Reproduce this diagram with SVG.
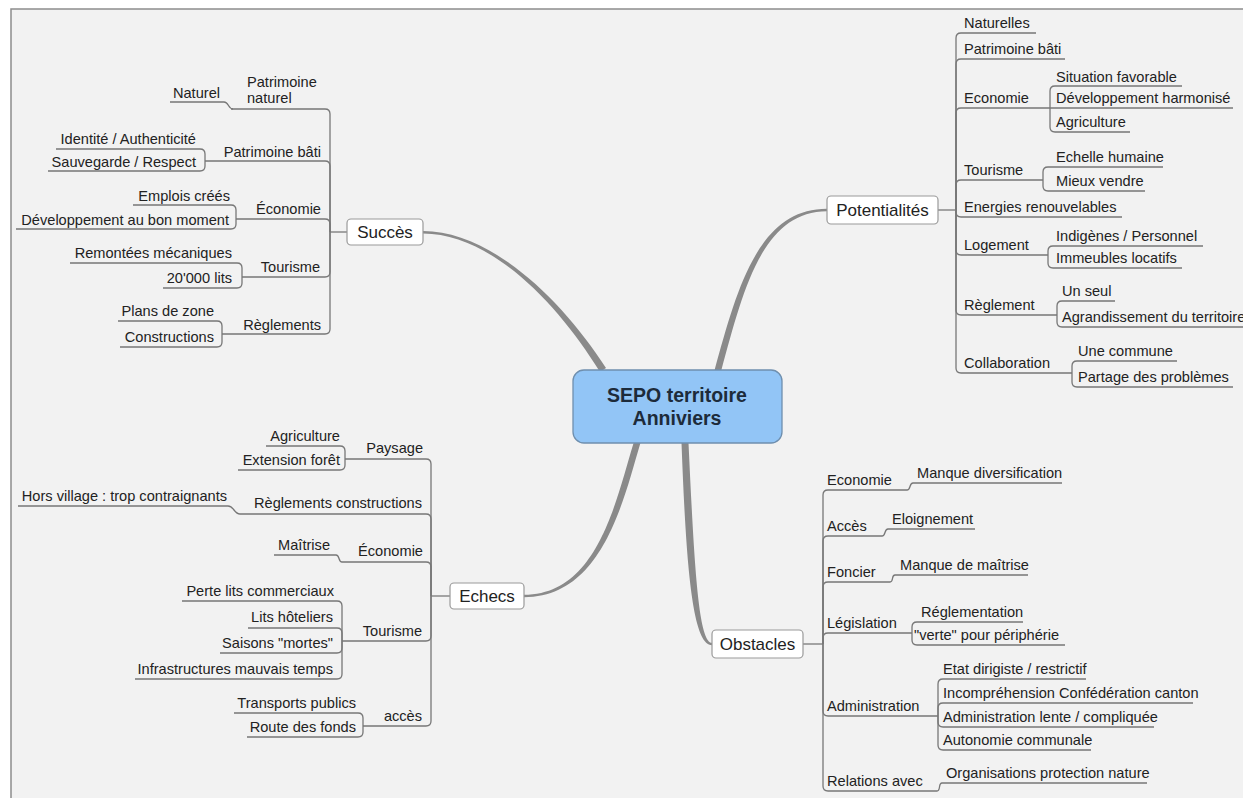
<svg xmlns="http://www.w3.org/2000/svg" width="1243" height="798" viewBox="0 0 1243 798">
<style>
text{font-family:"Liberation Sans",Arial,sans-serif;fill:#222}
.l{font-size:14.6px}
.e{text-anchor:end}
.bt{font-size:17px;text-anchor:middle}
.ct{font-size:19.5px;font-weight:bold;text-anchor:middle;fill:#1d2b3a}
.ln{fill:none;stroke:#777;stroke-width:1.3}
.bx{fill:#fff;stroke:#9a9a9a;stroke-width:1.2}
.br{fill:#8a8a8a}
</style>
<rect x="0" y="0" width="1243" height="798" fill="#fff"/>
<rect x="11" y="9" width="1232" height="789" fill="#f2f2f2"/>
<path d="M11,798 V9 H1243" fill="none" stroke="#8d8d8d" stroke-width="1.5"/>

<g id="connectors">
<g id="main-branches">
<path class="br" d="M423,231 C490,231 561,298 606,368 L600,372 C557,302 490,233.5 423,233.5 Z"/>
<path class="br" d="M714.6,370 C737,289 758,208.8 827,208.8 L827,211.2 C762,211.2 743,291 721.4,370 Z"/>
<path class="br" d="M633.6,443 C616,500 598,594.8 524,594.8 L524,597.2 C602,597.2 623,502 640.4,443 Z"/>
<path class="br" d="M681.5,443 C686,562 692,645.2 712,645.2 L712,642.8 C698,642.8 694,558 688.5,443 Z"/>
</g>
<g id="succes-links" class="ln">
<path d="M347,232 H330"/>
<path d="M231,109 H325 Q330,109 330,114 V232"/>
<path d="M205,161 H325 Q330,161 330,166 V232"/>
<path d="M236,219 H325 Q330,219 330,224 V232"/>
<path d="M242,277 H325 Q330,277 330,272 V232"/>
<path d="M222,334 H325 Q330,334 330,329 V232"/>
<path d="M170,102 H224 C229,102 228,109 233,109"/>
<path d="M56,149 H200 Q205,149 205,154 V161"/>
<path d="M48,171 H200 Q205,171 205,166 V161"/>
<path d="M133,205 H231 Q236,205 236,210 V219"/>
<path d="M16,229 H231 Q236,229 236,224 V219"/>
<path d="M70,263 H237 Q242,263 242,268 V277"/>
<path d="M163,288 H237 Q242,288 242,283 V277"/>
<path d="M118,321 H217 Q222,321 222,326 V334"/>
<path d="M120,347 H217 Q222,347 222,342 V334"/>
</g>
<g id="echecs-links" class="ln">
<path d="M450,596 H431"/>
<path d="M345,459 H426 Q431,459 431,464 V596"/>
<path d="M240,514 H426 Q431,514 431,519 V596"/>
<path d="M342,562 H426 Q431,562 431,567 V596"/>
<path d="M342,641 H426 Q431,641 431,636 V596"/>
<path d="M363,726 H426 Q431,726 431,721 V596"/>
<path d="M266,446 H340 Q345,446 345,451 V459"/>
<path d="M238,470 H340 Q345,470 345,465 V459"/>
<path d="M18,506 H228 C234,506 234,514 240,514"/>
<path d="M274,555 H336 C340,555 338,562 342,562"/>
<path d="M182,601 H337 Q342,601 342,606 V641"/>
<path d="M248,628 H337 Q342,628 342,633 V641"/>
<path d="M220,653 H337 Q342,653 342,648 V641"/>
<path d="M135,679 H337 Q342,679 342,674 V641"/>
<path d="M234,713 H358 Q363,713 363,718 V726"/>
<path d="M247,737 H358 Q363,737 363,732 V726"/>
</g>
<g id="potentialites-links" class="ln">
<path d="M938,210 H956"/>
<path d="M956,210 V38 Q956,33 961,33 H1036"/>
<path d="M956,210 V64 Q956,59 961,59 H1065"/>
<path d="M956,210 V113 Q956,108 961,108 H1050"/>
<path d="M956,210 V185 Q956,180 961,180 H1043"/>
<path d="M956,210 V212 Q956,217 961,217 H1122"/>
<path d="M956,210 V250 Q956,255 961,255 H1048"/>
<path d="M956,210 V310 Q956,315 961,315 H1057"/>
<path d="M956,210 V368 Q956,373 961,373 H1072"/>
<path d="M1050,108 V91 Q1050,86 1055,86 H1182"/>
<path d="M1050,108 H1233"/>
<path d="M1050,108 V127 Q1050,132 1055,132 H1130"/>
<path d="M1043,180 V172 Q1043,167 1048,167 H1163"/>
<path d="M1043,180 V186 Q1043,191 1048,191 H1145"/>
<path d="M1048,255 V251 Q1048,246 1053,246 H1203"/>
<path d="M1048,255 V263 Q1048,268 1053,268 H1182"/>
<path d="M1057,315 V306 Q1057,301 1062,301 H1115"/>
<path d="M1057,315 V322 Q1057,327 1062,327 H1250"/>
<path d="M1072,373 V366 Q1072,361 1077,361 H1177"/>
<path d="M1072,373 V382 Q1072,387 1077,387 H1233"/>
</g>
<g id="obstacles-links" class="ln">
<path d="M803,644 H823"/>
<path d="M823,644 V495 Q823,490 828,490 H907"/>
<path d="M907,490 C911,490 909,483 913,483 H1062"/>
<path d="M823,644 V541 Q823,536 828,536 H882"/>
<path d="M882,536 C886,536 884,529 888,529 H975"/>
<path d="M823,644 V587 Q823,582 828,582 H890"/>
<path d="M890,582 C894,582 891,575 895,575 H1028"/>
<path d="M823,644 V638 Q823,633 828,633 H912"/>
<path d="M912,633 V627 Q912,622 917,622 H1023"/>
<path d="M912,633 V640 Q912,645 917,645 H1065"/>
<path d="M823,644 V711 Q823,716 828,716 H938"/>
<path d="M938,716 V684 Q938,679 943,679 H1086"/>
<path d="M938,716 V708 Q938,703 943,703 H1193"/>
<path d="M938,716 V722 Q938,727 943,727 H1154"/>
<path d="M938,716 V745 Q938,750 943,750 H1091"/>
<path d="M823,644 V786 Q823,791 828,791 H937"/>
<path d="M937,791 C941,791 938,783 942,783 H1147"/>
</g>
</g>

<g id="center">
<rect x="573" y="370" width="209" height="73" rx="11" fill="#92c5f6" stroke="#6f8fae" stroke-width="1.3"/>
<text class="ct" x="677" y="402">SEPO territoire</text>
<text class="ct" x="677" y="425">Anniviers</text>
</g>

<g id="succes">
<rect class="bx" x="347" y="219" width="76" height="26" rx="4"/>
<text class="bt" x="385" y="238">Succès</text>
</g>
<g id="succes-children" class="l">
<g id="s-patnat"><text x="247" y="87">Patrimoine</text><text x="247" y="103">naturel</text></g>
<g id="s-naturel"><text class="e" x="220" y="98">Naturel</text></g>
<g id="s-patbati"><text class="e" x="321" y="157">Patrimoine bâti</text></g>
<g id="s-identite"><text class="e" x="196" y="144">Identité / Authenticité</text></g>
<g id="s-sauvegarde"><text class="e" x="196" y="167">Sauvegarde / Respect</text></g>
<g id="s-economie"><text class="e" x="321" y="214">Économie</text></g>
<g id="s-emplois"><text class="e" x="230" y="201">Emplois créés</text></g>
<g id="s-dev"><text class="e" x="229" y="225">Développement au bon moment</text></g>
<g id="s-tourisme"><text class="e" x="320" y="272">Tourisme</text></g>
<g id="s-remontees"><text class="e" x="232" y="258">Remontées mécaniques</text></g>
<g id="s-lits"><text class="e" x="232" y="283">20'000 lits</text></g>
<g id="s-reglements"><text class="e" x="321" y="330">Règlements</text></g>
<g id="s-plans"><text class="e" x="214" y="316">Plans de zone</text></g>
<g id="s-constructions"><text class="e" x="214" y="342">Constructions</text></g>
</g>

<g id="echecs">
<rect class="bx" x="450" y="583" width="74" height="26" rx="4"/>
<text class="bt" x="487" y="602">Echecs</text>
</g>
<g id="echecs-children" class="l">
<g id="e-paysage"><text class="e" x="423" y="453">Paysage</text></g>
<g id="e-agri"><text class="e" x="340" y="441">Agriculture</text></g>
<g id="e-foret"><text class="e" x="340" y="465">Extension forêt</text></g>
<g id="e-regl"><text class="e" x="422" y="508">Règlements constructions</text></g>
<g id="e-hors"><text class="e" x="227" y="501">Hors village : trop contraignants</text></g>
<g id="e-eco"><text class="e" x="423" y="556">Économie</text></g>
<g id="e-maitrise"><text class="e" x="330" y="550">Maîtrise</text></g>
<g id="e-tourisme"><text class="e" x="422" y="636">Tourisme</text></g>
<g id="e-perte"><text class="e" x="334" y="596">Perte lits commerciaux</text></g>
<g id="e-hotel"><text class="e" x="333" y="622">Lits hôteliers</text></g>
<g id="e-saisons"><text class="e" x="333" y="648">Saisons "mortes"</text></g>
<g id="e-infra"><text class="e" x="333" y="674">Infrastructures mauvais temps</text></g>
<g id="e-acces"><text class="e" x="422" y="721">accès</text></g>
<g id="e-transports"><text class="e" x="356" y="708">Transports publics</text></g>
<g id="e-route"><text class="e" x="356" y="732">Route des fonds</text></g>
</g>

<g id="potentialites">
<rect class="bx" x="827" y="196" width="111" height="28" rx="4"/>
<text class="bt" x="882.5" y="216">Potentialités</text>
</g>
<g id="potentialites-children" class="l">
<g id="p-naturelles"><text x="964" y="28">Naturelles</text></g>
<g id="p-patbati"><text x="964" y="54">Patrimoine bâti</text></g>
<g id="p-eco"><text x="964" y="103">Economie</text></g>
<g id="p-situation"><text x="1056" y="82">Situation favorable</text></g>
<g id="p-devharm"><text x="1056" y="103">Développement harmonisé</text></g>
<g id="p-agri"><text x="1056" y="127">Agriculture</text></g>
<g id="p-tourisme"><text x="964" y="175">Tourisme</text></g>
<g id="p-echelle"><text x="1056" y="162">Echelle humaine</text></g>
<g id="p-mieux"><text x="1056" y="186">Mieux vendre</text></g>
<g id="p-energies"><text x="964" y="212">Energies renouvelables</text></g>
<g id="p-logement"><text x="964" y="250">Logement</text></g>
<g id="p-indigenes"><text x="1056" y="241">Indigènes / Personnel</text></g>
<g id="p-immeubles"><text x="1056" y="263">Immeubles locatifs</text></g>
<g id="p-reglement"><text x="964" y="310">Règlement</text></g>
<g id="p-unseul"><text x="1062" y="296">Un seul</text></g>
<g id="p-agrand"><text x="1062" y="322">Agrandissement du territoire</text></g>
<g id="p-collab"><text x="964" y="368">Collaboration</text></g>
<g id="p-commune"><text x="1078" y="356">Une commune</text></g>
<g id="p-partage"><text x="1078" y="382">Partage des problèmes</text></g>
</g>

<g id="obstacles">
<rect class="bx" x="712" y="630" width="91" height="28" rx="4"/>
<text class="bt" x="757.5" y="650">Obstacles</text>
</g>
<g id="obstacles-children" class="l">
<g id="o-eco"><text x="827" y="485">Economie</text></g>
<g id="o-diversif"><text x="917" y="478">Manque diversification</text></g>
<g id="o-acces"><text x="827" y="531">Accès</text></g>
<g id="o-eloign"><text x="892" y="524">Eloignement</text></g>
<g id="o-foncier"><text x="827" y="577">Foncier</text></g>
<g id="o-maitrise"><text x="900" y="570">Manque de maîtrise</text></g>
<g id="o-legis"><text x="827" y="628">Législation</text></g>
<g id="o-reglem"><text x="921" y="617">Réglementation</text></g>
<g id="o-verte"><text x="914" y="640">"verte" pour périphérie</text></g>
<g id="o-admin"><text x="827" y="711">Administration</text></g>
<g id="o-etat"><text x="943" y="674">Etat dirigiste / restrictif</text></g>
<g id="o-incomp"><text x="943" y="698">Incompréhension Confédération canton</text></g>
<g id="o-lente"><text x="943" y="722">Administration lente / compliquée</text></g>
<g id="o-autonomie"><text x="943" y="745">Autonomie communale</text></g>
<g id="o-relations"><text x="827" y="786">Relations avec</text></g>
<g id="o-organis"><text x="946" y="778">Organisations protection nature</text></g>
</g>
</svg>
